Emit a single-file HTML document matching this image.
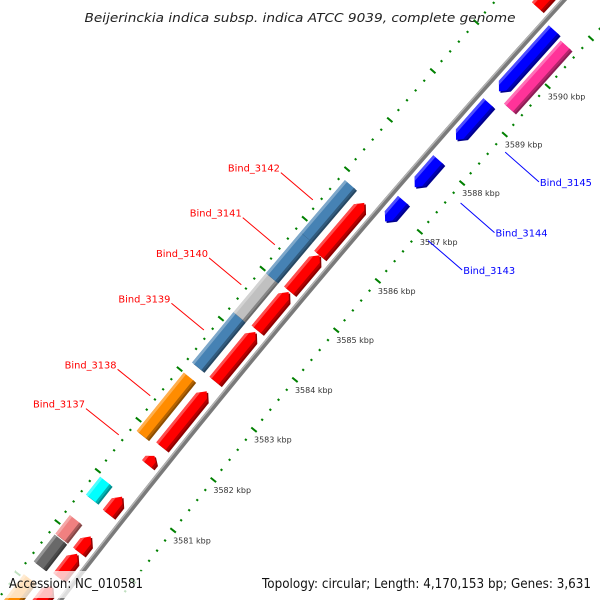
<!DOCTYPE html>
<html><head><meta charset="utf-8"><style>
html,body{margin:0;padding:0;background:#fff;width:600px;height:600px;overflow:hidden}
svg{display:block}
</style></head><body>
<svg id="map" width="600" height="600" viewBox="0 0 600 600" xmlns="http://www.w3.org/2000/svg">
<rect width="600" height="600" fill="#fff"/>
<g id="ticks"></g>
<g id="backbone"></g>
<g id="features"></g>
<g id="labels"></g>
<text x="300" y="22" text-anchor="middle" font-family="DejaVu Sans, Liberation Sans, sans-serif" font-style="italic" font-size="12" textLength="431" lengthAdjust="spacingAndGlyphs" fill="#222">Beijerinckia indica subsp. indica ATCC 9039, complete genome</text>
<rect x="4" y="571" width="144" height="27" fill="#fff" fill-opacity="0.75"/>
<text x="9" y="588" font-family="DejaVu Sans, Liberation Sans, sans-serif" font-size="13" textLength="134" lengthAdjust="spacingAndGlyphs" fill="#111">Accession: NC_010581</text>
<rect x="257" y="571" width="340" height="27" fill="#fff" fill-opacity="0.75"/>
<text x="262" y="588" font-family="DejaVu Sans, Liberation Sans, sans-serif" font-size="13" textLength="329" lengthAdjust="spacingAndGlyphs" fill="#111">Topology: circular; Length: 4,170,153 bp; Genes: 3,631</text>
</svg>
<script>
// ---- data ----
const tickKbp = [3576,3577,3578,3579,3580,3581,3582,3583,3584,3585,3586,3587,3588,3589,3590,3591,3592];
const labelKbp = [3581,3582,3583,3584,3585,3586,3587,3588,3589,3590];
const tickLabels = ["3581 kbp","3582 kbp","3583 kbp","3584 kbp","3585 kbp","3586 kbp","3587 kbp","3588 kbp","3589 kbp","3590 kbp"];
const fwdStarts = [3578.6,3579.34,3579.84,3580.58,3581.55,3581.9,3583.2,3584.22,3585.0,3585.72,3590.8];
const fwdEnds   = [3579.17,3579.8,3580.14,3580.92,3581.72,3583.0,3584.18,3584.98,3585.72,3586.78,3591.6];
const catStarts = [3578.5,3579.3,3579.84,3580.6,3581.85,3583.2,3584.2,3584.98,3585.8];
const catEnds   = [3579.05,3579.82,3580.2,3580.95,3583.0,3584.2,3584.98,3585.8,3586.85];
const catColors = ["#ff8c00","#696969","#f08080","#00ffff","#ff8c00","#4682b4","#c0c0c0","#4682b4","#4682b4"];
const revStarts = [3586.77,3587.47,3588.44,3589.44];
const revEnds   = [3587.2,3588.03,3589.2,3590.71];
const pinkStarts = [3589.35];
const pinkEnds   = [3590.66];
const fwdLabels = ["Bind_3137","Bind_3138","Bind_3139","Bind_3140","Bind_3141","Bind_3142"];
const fwdLabelKbp = [3581.63,3582.4,3583.7,3584.6,3585.4,3586.3];
const revLabels = ["Bind_3143","Bind_3144","Bind_3145"];
const revLabelKbp = [3586.98,3587.75,3588.8];

// ---- geometry ----
const NS="http://www.w3.org/2000/svg";
const CX=7641, CY=6450, RB=9575.5, DK=0.006775, TH0=Math.atan2(-6120,-7305);
function P(k,off){const t=TH0+(k-3585)*DK;const r=RB+off;return [CX+r*Math.cos(t),CY+r*Math.sin(t)];}
function pts(a){return a.map(p=>p[0].toFixed(2)+","+p[1].toFixed(2)).join(" ");}
function mk(tag,parent,attrs){const e=document.createElementNS(NS,tag);for(const k in attrs)e.setAttribute(k,attrs[k]);parent.appendChild(e);return e;}

// ---- ticks ----
const gT=document.getElementById('ticks');
const rings=[-46,50];
rings.forEach((off,ri)=>{
  for(let i=0;i<tickKbp.length-1;i++){
    for(let j=0;j<5;j++){
      const k=tickKbp[i]+j*0.2;
      const len = j===0?3.5:1.1;
      const a=P(k,off-len), b=P(k,off+len);
      const ln=mk('line',gT,{x1:a[0],y1:a[1],x2:b[0],y2:b[1],stroke:'#008000','stroke-width':2});
      
      
    }
  }
});
labelKbp.forEach((k,i)=>{
  const p=P(k,-46);
  const t=mk('text',gT,{x:p[0],y:p[1]+13,'font-family':'DejaVu Sans, Liberation Sans, sans-serif','font-size':'8',fill:'#333'});
  t.textContent=tickLabels[i];
  
  
});

// ---- backbone ----
const gB=document.getElementById('backbone');
const bb=[],hl=[];
for(let k=3576;k<=3593;k+=0.25){bb.push(P(k,0));hl.push(P(k,1.6));}
const b1=mk('polyline',gB,{points:pts(bb),fill:'none',stroke:'#7a7a7a','stroke-width':5});


const b2=mk('polyline',gB,{points:pts(hl),fill:'none',stroke:'#b4b4b4','stroke-width':1.4});



// ---- features ----
const gF=document.getElementById('features');
function shade(hex,f){const n=parseInt(hex.slice(1),16);let r=n>>16,g=(n>>8)&255,b=n&255;
  if(f>0){r+= (255-r)*f;g+=(255-g)*f;b+=(255-b)*f;}else{r*=1+f;g*=1+f;b*=1+f;}
  return 'rgb('+Math.round(r)+','+Math.round(g)+','+Math.round(b)+')';}
function feature(s,e,off,h,color,dir,name){
  const g=mk('g',gF,{});
  
  
  const L=Math.min(0.12,(e-s)*0.5);
  let poly;
  if(dir===1) poly=[P(s,off+h),P(e-L,off+h),P(e,off),P(e-L,off-h),P(s,off-h)];
  else if(dir===-1) poly=[P(e,off+h),P(s+L,off+h),P(s,off),P(s+L,off-h),P(e,off-h)];
  else poly=[P(s,off+h),P(e,off+h),P(e,off-h),P(s,off-h)];
  mk('polygon',g,{points:pts(poly.map(p=>[p[0]+1.5,p[1]+1.5])),fill:shade(color,-0.45)});
  mk('polygon',g,{points:pts(poly),fill:color});
  let lb;
  if(dir===1) lb=[P(s,off+h),P(e-L,off+h),P(e-L*0.6,off+h*0.6),P(s,off+h*0.6)];
  else if(dir===-1) lb=[P(e,off+h),P(s+L,off+h),P(s+L*0.6,off+h*0.6),P(e,off+h*0.6)];
  else lb=[P(s,off+h),P(e,off+h),P(e,off+h*0.6),P(s,off+h*0.6)];
  mk('polygon',g,{points:pts(lb),fill:shade(color,0.3)});
  let db;
  if(dir===1) db=[P(s,off-h),P(e-L,off-h),P(e-L*0.7,off-h*0.7),P(s,off-h*0.7)];
  else if(dir===-1) db=[P(e,off-h),P(s+L,off-h),P(s+L*0.7,off-h*0.7),P(e,off-h*0.7)];
  else db=[P(s,off-h),P(e,off-h),P(e,off-h*0.7),P(s,off-h*0.7)];
  mk('polygon',g,{points:pts(db),fill:shade(color,-0.3)});
}
catStarts.forEach((s,i)=>feature(s,catEnds[i],37.5,7,catColors[i],0,'category-feature'));
fwdStarts.forEach((s,i)=>feature(s,fwdEnds[i],15,7,'#ff0000',1,'forward-gene'));
revStarts.forEach((s,i)=>feature(s,revEnds[i],-13,7,'#0000ff',-1,'reverse-gene'));
pinkStarts.forEach((s,i)=>feature(s,pinkEnds[i],-32,7,'#ff3399',0,'rna-feature'));

// ---- labels ----
const gL=document.getElementById('labels');
fwdLabels.forEach((lab,i)=>{
  const a=P(fwdLabelKbp[i],56), b=P(fwdLabelKbp[i],98);
  const ln=mk('line',gL,{x1:a[0],y1:a[1],x2:b[0],y2:b[1],stroke:'#ff0000','stroke-width':1});
  
  
  const t=mk('text',gL,{x:b[0]-1,y:b[1]-1,'text-anchor':'end','font-family':'DejaVu Sans, Liberation Sans, sans-serif','font-size':'10',fill:'#ff0000',textLength:'52',lengthAdjust:'spacingAndGlyphs'});
  t.textContent=lab;
  
  
});
revLabels.forEach((lab,i)=>{
  const a=P(revLabelKbp[i],-58), b=P(revLabelKbp[i],-103);
  const ln=mk('line',gL,{x1:a[0],y1:a[1],x2:b[0],y2:b[1],stroke:'#0000ff','stroke-width':1});
  
  
  const t=mk('text',gL,{x:b[0]+1,y:b[1]+4,'text-anchor':'start','font-family':'DejaVu Sans, Liberation Sans, sans-serif','font-size':'10',fill:'#0000ff',textLength:'52',lengthAdjust:'spacingAndGlyphs'});
  t.textContent=lab;
  
  
});
</script>
</body></html>
